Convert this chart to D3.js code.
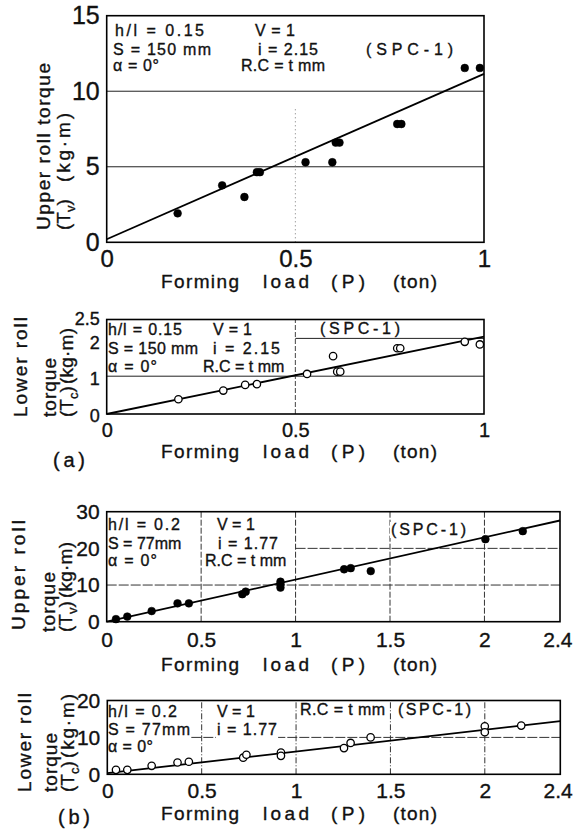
<!DOCTYPE html>
<html><head><meta charset="utf-8">
<script src="https://cdn.jsdelivr.net/npm/d3@7/dist/d3.min.js"></script>
<style>body{margin:0;background:#fff} svg{display:block} text{stroke:#111;stroke-width:0.35px}</style>
</head><body>
<svg id="c" width="573" height="833"></svg>
<script>
// ---------------- data ----------------
// (a) upper roll torque
const loadA_up   = [0.188, 0.306, 0.365, 0.398, 0.406, 0.527, 0.598, 0.607, 0.617, 0.770, 0.781, 0.949, 0.989];
const torqueA_up = [1.92, 3.77, 3.00, 4.64, 4.64, 5.30, 5.30, 6.60, 6.60, 7.83, 7.83, 11.54, 11.54];
const fitA_upX = [0, 1], fitA_upY = [0.2, 11.15];
// (a) lower roll torque
const loadA_lo   = [0.190, 0.309, 0.367, 0.398, 0.531, 0.600, 0.611, 0.619, 0.770, 0.778, 0.949, 0.989];
const torqueA_lo = [0.39, 0.62, 0.77, 0.79, 1.06, 1.53, 1.12, 1.12, 1.74, 1.74, 1.91, 1.84];
const fitA_loX = [0, 1], fitA_loY = [0, 2.05];
// (b) upper roll torque
const loadB_up   = [0.049, 0.109, 0.238, 0.375, 0.435, 0.718, 0.736, 0.92, 0.92, 0.92, 1.257, 1.292, 1.398, 2.005, 2.203];
const torqueB_up = [0.7, 1.4, 2.9, 5.0, 5.0, 7.5, 8.2, 10.9, 10.2, 9.3, 14.3, 14.6, 13.8, 22.5, 24.7];
const fitB_upX = [0, 2.4], fitB_upY = [0, 27.6];
// (b) lower roll torque
const loadB_lo   = [0.046, 0.106, 0.235, 0.372, 0.432, 0.720, 0.737, 0.92, 0.92, 1.254, 1.289, 1.395, 2.0, 2.0, 2.193];
const torqueB_lo = [1.2, 1.2, 2.3, 3.2, 3.4, 4.5, 5.3, 5.9, 5.0, 7.1, 8.5, 10.0, 13.0, 11.4, 13.2];
const fitB_loX = [0, 2.4], fitB_loY = [0.3, 14.4];

// tick labels
const xTicksA = [0, 0.5, 1];
const xTicksB = [0, 0.5, 1, 1.5, 2, 2.4];
const yTicksA_up = [0, 5, 10, 15];
const yTicksA_lo = [0, 1, 2, 2.5];
const yTicksB_up = [0, 10, 20, 30];
const yTicksB_lo = [0, 10, 20];

// annotation texts
const notesA = ["h/l = 0.15", "S = 150 mm", "α = 0°", "V = 1", "i = 2.15", "R.C = t mm", "(SPC-1)"];
const notesB = ["h/l = 0.2", "S = 77mm", "α = 0°", "V = 1", "i = 1.77", "R.C = t mm", "(SPC-1)"];
const xTitleWords = ["Forming", "load", "(P)", "(ton)"];

// ---------------- drawing ----------------
const FONT = "'Liberation Sans', Arial, sans-serif";
const svg = d3.select("#c");
svg.append("rect").attr("width", 573).attr("height", 833).attr("fill", "#fff");

function txt(g, s, x, y, size, len, rot) {
  const t = g.append("text")
    .attr("font-family", FONT).attr("font-size", size).attr("fill", "#111");
  if (rot) t.attr("transform", `translate(${x},${y}) rotate(-90)`);
  else t.attr("x", x).attr("y", y);
  const m = s.match(/^(.*)_(.)(.*)$/);
  if (m) {
    t.append("tspan").text(m[1]);
    t.append("tspan").attr("font-size", size * 0.68).attr("dy", size * 0.25).text(m[2]);
    t.append("tspan").attr("dy", -size * 0.25).text(m[3]);
  } else {
    t.text(s);
    if (len && t.node().getComputedTextLength() < len)
      t.attr("textLength", len).attr("lengthAdjust", "spacing");
  }
  return t;
}

function panel(cfg) {
  const g = svg.append("g");
  const x = d3.scaleLinear().domain(cfg.xDom).range(cfg.xR);
  const y = d3.scaleLinear().domain(cfg.yDom).range(cfg.yR);

  // grid
  cfg.hGrid.forEach(h => {
    g.append("line")
      .attr("x1", x(h.from ?? cfg.xDom[0])).attr("x2", x(h.to ?? cfg.xDom[1]))
      .attr("y1", y(h.v)).attr("y2", y(h.v))
      .attr("stroke", h.c || "#222").attr("stroke-width", h.w || 1)
      .attr("stroke-dasharray", h.dash || null);
  });
  cfg.vGrid.forEach(v => {
    g.append("line")
      .attr("x1", x(v.v)).attr("x2", x(v.v))
      .attr("y1", y(v.from ?? cfg.yDom[0])).attr("y2", y(v.to ?? cfg.yDom[1]))
      .attr("stroke", v.c || "#333").attr("stroke-width", v.w || 1)
      .attr("stroke-dasharray", v.dash || null);
  });

  // annotations with white backing
  const ng = g.append("g");
  cfg.notes.forEach((s, i) => {
    const p = cfg.notePos[i];
    const t = txt(ng, s, p[0], p[1], 16, p[2]);
    const b = t.node().getBBox();
    ng.insert("rect", "text").attr("x", b.x - 1).attr("y", b.y + 1)
      .attr("width", b.width + 2).attr("height", b.height - 1).attr("fill", "#fff");
  });

  // fit line
  const fit = cfg.fitX.map((d, i) => [d, cfg.fitY[i]]);
  g.append("path").datum(fit)
    .attr("d", d3.line().x(d => x(d[0])).y(d => y(d[1])))
    .attr("fill", "none").attr("stroke", "#000").attr("stroke-width", 1.8);

  // points
  const pts = cfg.px.map((d, i) => [d, cfg.py[i]]);
  g.selectAll("circle.pt").data(pts).join("circle")
    .attr("cx", d => x(d[0])).attr("cy", d => y(d[1]))
    .attr("r", cfg.open ? 3.7 : 3.9)
    .attr("fill", cfg.open ? "#fff" : "#000")
    .attr("stroke", "#000").attr("stroke-width", cfg.open ? 1.3 : 0.5);

  // frame
  g.append("rect")
    .attr("x", x(cfg.xDom[0])).attr("y", y(cfg.yDom[1]))
    .attr("width", x(cfg.xDom[1]) - x(cfg.xDom[0]))
    .attr("height", y(cfg.yDom[0]) - y(cfg.yDom[1]))
    .attr("fill", "none").attr("stroke", "#000").attr("stroke-width", 1.6);

  // axes
  const ya = g.append("g").attr("transform", `translate(${x(cfg.xDom[0])},0)`)
    .call(d3.axisLeft(y).tickValues(cfg.yTicks).tickSize(0).tickPadding(cfg.yPad).tickFormat(d3.format("")));
  ya.select(".domain").remove();
  ya.selectAll("text").attr("font-family", FONT).attr("font-size", cfg.yFont).attr("fill", "#111");
  if (cfg.yShift) ya.selectAll(".tick").attr("transform", d => `translate(0,${y(d) + (cfg.yShift[d] || 0)})`);

  const xa = g.append("g").attr("transform", `translate(0,${y(cfg.yDom[0])})`)
    .call(d3.axisBottom(x).tickValues(cfg.xTicks).tickSize(0).tickPadding(cfg.xPad).tickFormat(d3.format("")));
  xa.select(".domain").remove();
  xa.selectAll("text").attr("font-family", FONT).attr("font-size", cfg.xFont).attr("fill", "#111")
    .attr("text-anchor", d => d === 2.4 ? "end" : "middle")
    .attr("dx", d => d === 2.4 ? 12 : 0);

  // x title
  const wx = [[161, 78], [263, 46], [331, 34], [393, 44]];
  xTitleWords.forEach((w, i) => txt(g, w, wx[i][0], cfg.xTitleY, 19, wx[i][1]));

  // y titles (rotated)
  cfg.yTitles.forEach(t => txt(g, t[0], t[1], t[2], 19, t[3], true));
}

// (a) upper
panel({
  xDom: [0, 1], yDom: [0, 15], xR: [106.7, 484], yR: [242.3, 15.7],
  px: loadA_up, py: torqueA_up, fitX: fitA_upX, fitY: fitA_upY, open: false,
  xTicks: xTicksA, yTicks: yTicksA_up, yFont: 25, yPad: 7, xFont: 24, xPad: 8,
  hGrid: [{v: 5}, {v: 10}],
  vGrid: [{v: 0.5, to: 9, c: "#777", dash: "1,3"}],
  notes: notesA,
  notePos: [[115, 36, 89], [113, 55, 98], [113, 71, 46], [255, 36, 40], [258, 55, 60], [241, 71, 84], [366, 55, 87]],
  xTitleY: 288,
  yTitles: [["Upper roll torque", 50, 230, 167], ["(T_v)", 70, 230, 0], ["(kg·m)", 70, 182, 69]]
});

// (a) lower
panel({
  xDom: [0, 1], yDom: [0, 2.5], xR: [106.7, 484], yR: [414, 319.5],
  px: loadA_lo, py: torqueA_lo, fitX: fitA_loX, fitY: fitA_loY, open: true,
  xTicks: xTicksA, yTicks: yTicksA_lo, yFont: 18, yPad: 7, xFont: 20, xPad: 9,
  yShift: {0: 2, 1: 3, 2: 5, 2.5: 0},
  hGrid: [{v: 1}, {v: 2, from: 0.5}],
  vGrid: [{v: 0.5, c: "#444", dash: "5,2"}],
  notes: notesA,
  notePos: [[108, 335, 74], [108, 354, 90], [108, 372, 49], [213, 335, 39], [213, 354, 67], [203, 372, 80], [320, 334, 80]],
  xTitleY: 458,
  yTitles: [["Lower roll", 27, 417, 100], ["torque", 56, 417, 59], ["(T_c)", 73, 417, 0], ["(kg·m)", 73, 384, 56]]
});
txt(svg, "(a)", 53, 467, 20, 32);

// (b) upper
panel({
  xDom: [0, 2.4], yDom: [0, 30], xR: [106.7, 560], yR: [621.7, 511.7],
  px: loadB_up, py: torqueB_up, fitX: fitB_upX, fitY: fitB_upY, open: false,
  xTicks: xTicksB, yTicks: yTicksB_up, yFont: 21, yPad: 7, xFont: 21, xPad: 10,
  hGrid: [{v: 10, dash: "10,2", c: "#333"}, {v: 20, from: 1, dash: "10,2", c: "#333"}],
  vGrid: [{v: 0.5, dash: "6,2"}, {v: 1, dash: "6,2"}, {v: 1.5, dash: "6,2"}, {v: 2, dash: "6,2"}],
  notes: notesB,
  notePos: [[108, 530, 72], [108, 549, 70], [108, 566, 49], [217, 530, 35], [218, 549, 60], [205, 566, 80], [391, 535, 75]],
  xTitleY: 671,
  yTitles: [["Upper roll", 25, 630, 110], ["torque", 55, 632, 60], ["(T_v)", 72, 632, 0], ["(kg·m)", 72, 598, 56]]
});

// (b) lower
panel({
  xDom: [0, 2.4], yDom: [0, 20], xR: [107.3, 560.3], yR: [774.3, 700.5],
  px: loadB_lo, py: torqueB_lo, fitX: fitB_loX, fitY: fitB_loY, open: true,
  xTicks: xTicksB, yTicks: yTicksB_lo, yFont: 21, yPad: 7, xFont: 21, xPad: 9,
  hGrid: [{v: 10, dash: "10,2", c: "#333"}],
  vGrid: [{v: 0.5, dash: "6,2,1,2"}, {v: 1, dash: "6,2,1,2"}, {v: 1.5, dash: "6,2,1,2"}, {v: 2, dash: "6,2,1,2"}],
  notes: notesB,
  notePos: [[108, 717, 69], [108, 735, 82], [108, 752, 45], [217, 717, 36], [217, 735, 60], [300, 715, 85], [398, 715, 73]],
  xTitleY: 820,
  yTitles: [["Lower roll", 31, 792, 99], ["torque", 57, 792, 59], ["(T_c)", 74, 792, 0], ["(kg·m)", 74, 758, 64]]
});
txt(svg, "(b)", 58, 824, 20, 32);
</script>
</body></html>
